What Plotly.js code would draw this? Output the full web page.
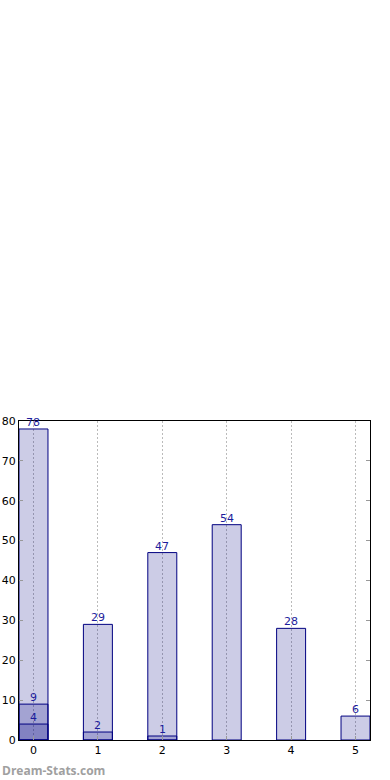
<!DOCTYPE html>
<html><head><meta charset="utf-8">
<script src="https://cdn.plot.ly/plotly-3.0.1.min.js"></script>
<style>html,body{margin:0;padding:0;background:#fff}#c{width:390px;height:780px}</style>
</head><body><div id="c"></div>
<script>
var categories = [0, 1, 2, 3, 4, 5];
var seriesA = [78, 29, 47, 54, 28, 6];
var seriesB = [9, 2, 1];
var seriesC = [4];
var yTicks = [0, 10, 20, 30, 40, 50, 60, 70, 80];

function barTrace(vals) {
  return {
    type: 'bar',
    x: categories.slice(0, vals.length),
    y: vals,
    width: 0.45,
    marker: {color: 'rgba(0,0,128,0.2)', line: {color: '#000080', width: 1}},
    hoverinfo: 'skip'
  };
}

function labels(vals) {
  return vals.map(function (v, i) {
    return {
      x: categories[i], y: v, xref: 'x', yref: 'y', text: String(v),
      showarrow: false, xanchor: 'center', yanchor: 'bottom', yshift: -2,
      font: {family: 'DejaVu Sans', size: 11, color: '#1c1c9c'}
    };
  });
}

var data = [barTrace(seriesA), barTrace(seriesB), barTrace(seriesC)];

var annotations = [].concat(labels(seriesA), labels(seriesB), labels(seriesC));
annotations.push({
  text: '<b>Dream-Stats.com</b>', xref: 'paper', yref: 'paper',
  x: -19/351, y: -30/319, xanchor: 'left', yanchor: 'middle', showarrow: false,
  font: {family: 'Open Sans', size: 12, color: '#a0a0a0'}
});

var layout = {
  width: 390, height: 780,
  margin: {l: 19, r: 20, t: 421, b: 40},
  barmode: 'overlay',
  showlegend: false,
  plot_bgcolor: '#fff', paper_bgcolor: '#fff',
  font: {family: 'DejaVu Sans', size: 11, color: '#000'},
  xaxis: {
    range: [-0.225, 5.225],
    tickvals: categories, ticktext: categories.map(String),
    ticks: 'inside', ticklen: 4, tickcolor: '#999',
    showgrid: true, gridcolor: '#bbbbbb', griddash: '2px,2px', gridwidth: 1,
    showline: true, linecolor: '#000', linewidth: 1, mirror: true,
    zeroline: false, fixedrange: true,
    tickfont: {family: 'DejaVu Sans', size: 11, color: '#000'}
  },
  yaxis: {
    range: [0, 80],
    tickvals: yTicks, ticktext: yTicks.map(String),
    ticks: 'inside', ticklen: 4, tickcolor: '#999',
    showgrid: false,
    showline: true, linecolor: '#000', linewidth: 1, mirror: 'ticks',
    zeroline: false, fixedrange: true,
    tickfont: {family: 'DejaVu Sans', size: 11, color: '#000'}
  },
  annotations: annotations
};

Plotly.newPlot('c', data, layout, {staticPlot: true, displayModeBar: false});
</script>
</body></html>
